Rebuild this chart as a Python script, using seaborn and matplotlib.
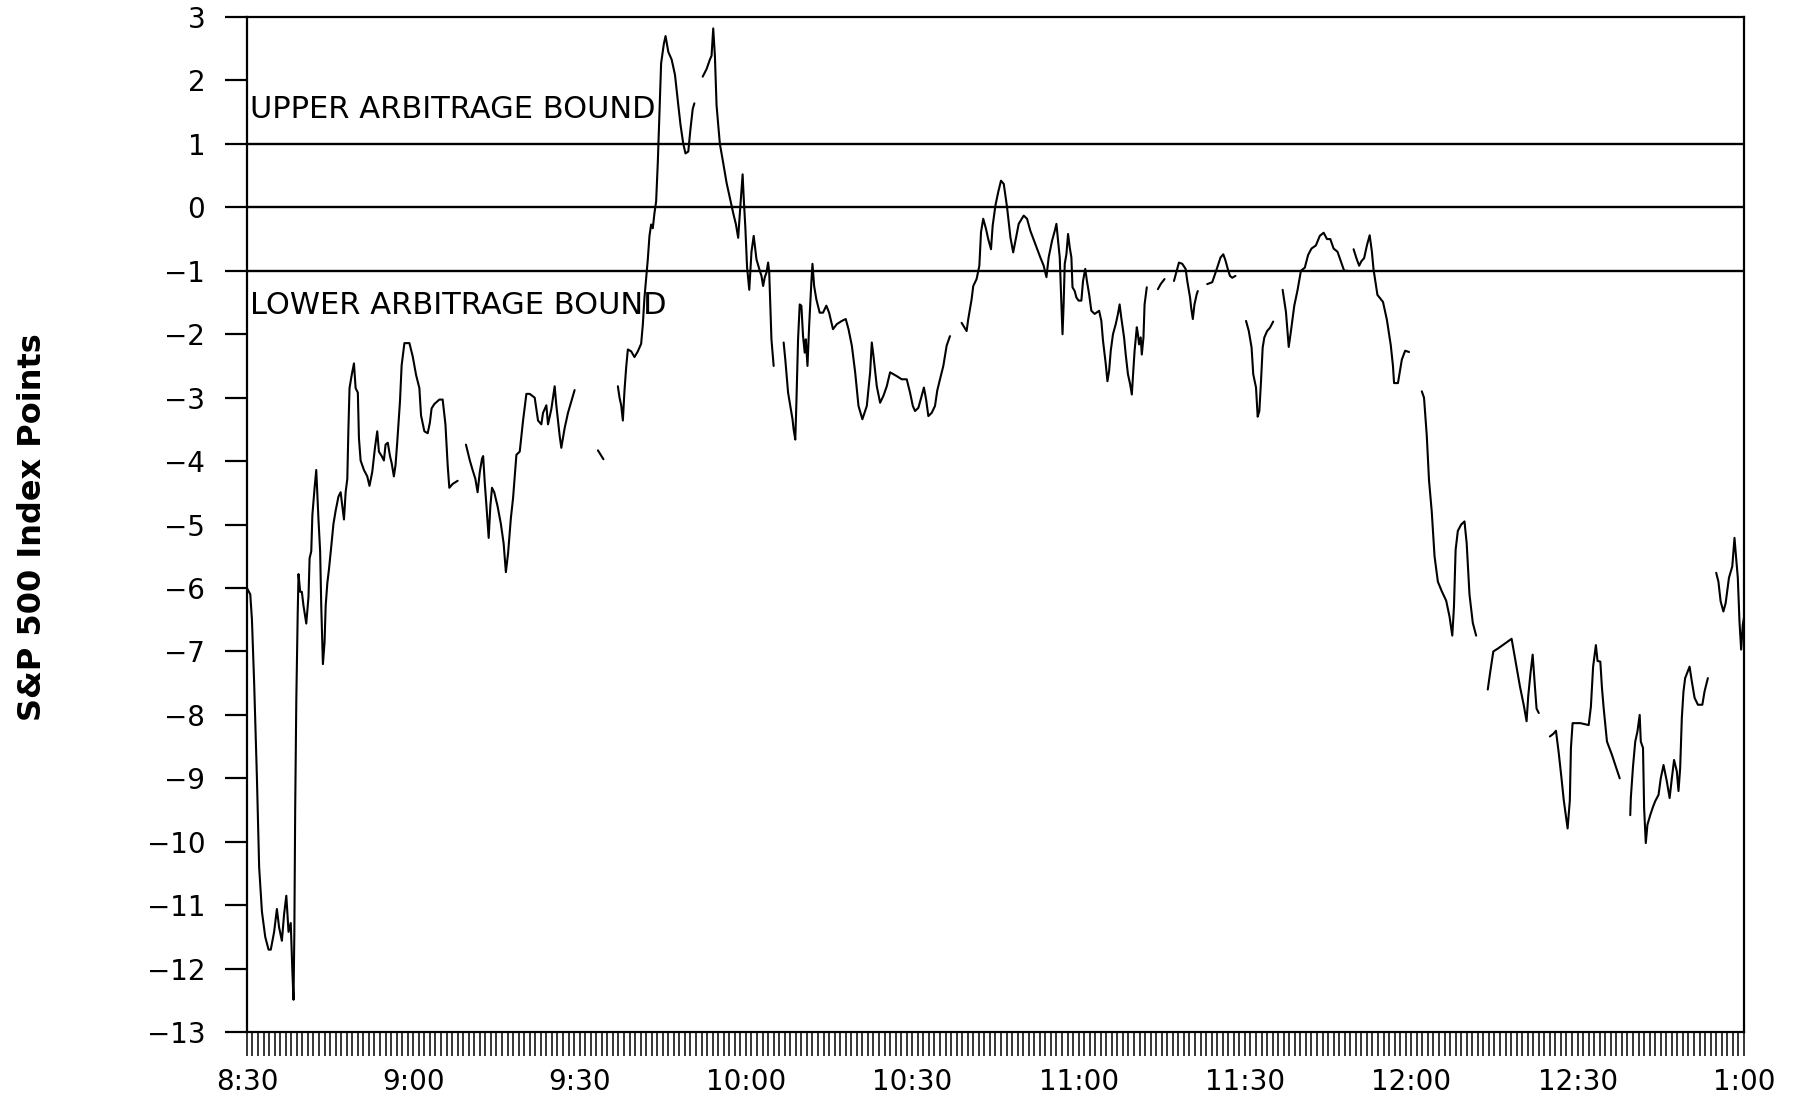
import numpy as np
import pandas as pd
import seaborn as sns
from matplotlib import pyplot as plt
from matplotlib.ticker import MultipleLocator

nan = np.nan

# minutes after 8:30; nan marks a break in the recorded series
minutes = [
    0, 0.6, 0.9, 1.3, 1.8, 2.2, 2.7, 3.3, 3.9, 4.3, 4.9, 5.4, 5.8, 6.3, 6.7, 7.1, 7.5, 7.9, 8.2, 8.4, 8.55,
    8.7, 8.9, 9.15, 9.3, 9.6, 9.9, 10.2, 10.7, 11.1, 11.3, 11.6, 11.8, 12.2, 12.5, 12.9, 13.2, 13.4, 13.7,
    14.0, 14.2, 14.5, 14.8, 15.2, 15.6, 16.0, 16.5, 16.9, 17.2, 17.5, 17.8, 18.1, 18.3, 18.5, 18.9, 19.3,
    19.6, 20.0, 20.2, 20.5, 21.1, 21.7, 22.1, 22.6, 23.1, 23.5, 23.8, 24.3, 24.7, 25.0, 25.4, 25.8, 26.1,
    26.5, 26.8, 27.1, 27.6, 27.9, 28.4, 29.3, 29.9, 30.5, 31.1, 31.4, 32.0, 32.6, 33.0, 33.3, 33.8, 34.7,
    35.3, 35.8, 36.2, 36.5, 37.1, 38.0, nan,
    39.5, 40.2, 40.7, 41.2, 41.6, 42.0, 42.4, 42.6, 42.9, 43.2, 43.6, 43.9, 44.2, 44.6, 45.2, 45.8, 46.3,
    46.7, 47.1, 47.6, 48.0, 48.6, 49.2, 49.8, 50.4, 51.0, 51.9, 52.5, 53.1, 53.4, 54.0, 54.3, 54.9, 55.5,
    55.8, 56.4, 56.7, 57.3, 57.9, 58.5, 59.1, nan,
    63.3, 64.3, nan,
    66.9, 67.2, 67.5, 67.8, 68.1, 68.4, 68.7, 69.3, 69.9, 70.5, 71.1, 71.4, 71.7, 72.0, 72.3, 72.6, 72.9,
    73.2, 73.5, 73.8, 74.1, 74.4, 74.7, 75.2, 75.5, 76.0, 76.6, 77.2, 77.8, 78.2, 78.7, 79.1, 79.6, 80.0,
    80.4, 80.7, nan,
    82.2, 82.9, 83.5, 83.8, 84.1, 84.4, 84.7, 85.0, 85.3, 85.9, 86.5, 87.1, 87.7, 88.2, 88.6, 89.0, 89.4,
    89.6, 89.9, 90.2, 90.6, 91.0, 91.4, 91.9, 92.5, 92.8, 93.1, 93.4, 93.7, 94.0, 94.2, 94.3, 94.6, 95.0, nan,
    96.8, 97.1, 97.6, 98.0, 98.4, 98.6, 98.9, 99.1, 99.4, 99.7, 100.0, 100.3, 100.6, 100.8, 101.1, 101.4,
    101.8, 102.0, 102.3, 102.7, 103.3, 103.9, 104.5, 105.0, 105.7, 106.4, 107.3, 108.0, 108.5, 109.1,
    109.7, 110.3, 111.0, 111.8, 112.4, 112.7, 113.0, 113.6, 114.2, 114.8, 115.4, 116.0, 116.6, 117.2,
    118.1, 119.0, 119.6, 120.1, 120.5, 121.1, 121.7, 122.1, 122.5, 122.9, 123.5, 124.1, 124.5, 125.0,
    125.6, 126.2, 126.8, nan,
    128.9, 129.8, 130.1, 130.7, 131.0, 131.6, 132.1, 132.4, 132.8, 133.3, 133.7, 134.2, 134.5, 135.0,
    135.5, 136.0, 136.5, 137.1, 137.7, 138.2, 138.6, 139.2, 140.1, 140.7, 141.3, 142.2, 143.1, 143.7,
    144.2, 144.6, 145.2, 145.7, 146.0, 146.3, 146.6, 146.9, 147.1, 147.3, 147.5, 147.8, 148.1, 148.4,
    148.7, 148.9, 149.3, 149.6, 150.0, 150.5, 150.8, 151.2, 151.5, 151.9, 152.3, 152.9, 153.7, 154.1,
    154.4, 154.9, 155.2, 155.5, 155.8, 156.2, 156.7, 157.1, 157.4, 157.7, 158.2, 158.5, 158.9, 159.3,
    159.6, 159.9, 160.1, 160.5, 160.7, 160.9, 161.2, 161.4, 161.7, 161.9, 162.3, nan,
    164.3, 164.8, 165.5, nan,
    167.2, 167.7, 168.1, 168.7, 169.3, 169.6, 170.1, 170.3, 170.6, 170.9, 171.3, 171.5, nan,
    173.2, 174.1, 174.5, 175.0, 175.6, 176.1, 176.5, 177.0, 177.3, 177.7, 178.3, nan,
    180.2, 180.7, 181.2, 181.5, 182.0, 182.3, 182.6, 182.9, 183.2, 183.5, 184.0, 184.5, 185.1, nan,
    186.8, 187.4, 187.9, 188.3, 188.9, 189.5, 190.1, 190.8, 191.4, 192.0, 192.8, 193.5, 194.2, 194.8,
    195.4, 196.0, 196.7, 197.3, 197.9, 198.5, nan,
    199.6, 200.1, 200.6, 201.0, 201.5, 202.0, 202.5, 202.9, 203.2, 203.9, 204.9, 205.6, 206.3, 206.7,
    206.9, 207.6, 208.3, 208.9, 209.6, nan,
    211.9, 212.3, 212.8, 213.2, 213.7, 214.2, 214.8, 215.5, 216.3, 216.9, 217.4, 217.7, 218.0, 218.4,
    219.0, 219.6, 220.0, 220.5, 221.1, 221.7, nan,
    223.8, 224.2, 224.8, 225.7, 226.5, 227.3, 228.1, 228.5, 229.0, 229.6, 230.3, 230.8, 231.1, 231.5,
    231.9, 232.3, 232.6, 233.0, nan,
    235.0, 235.6, 236.1, 236.6, 237.1, 237.5, 238.2, 238.6, 238.8, 239.1, 240.5, 242.0, 242.4, 242.8,
    243.3, 243.6, 244.1, 244.4, 244.7, 245.3, 246.2, 246.8, 247.6, nan,
    249.5, 249.6, 250.0, 250.4, 250.8, 251.2, 251.4, 251.8, 252.0, 252.3, 252.6, 253.1, 253.6, 254.0,
    254.6, 255.0, 255.5, 256.1, 256.6, 257.0, 257.4, 257.9, 258.2, 258.5, 258.8, 259.1, 259.4, 260.2,
    260.6, 261.1, 261.7, 262.5, 262.9, 263.5, nan,
    265.0, 265.4, 265.8, 266.3, 266.7, 267.3, 267.9, 268.3, 268.6, 268.9, 269.2, 269.5, 269.8, 270.0,
]

# futures minus fair value, S&P 500 index points
spread = [
    -6.0, -6.1, -6.5, -7.5, -9.0, -10.4, -11.1, -11.5, -11.7, -11.7, -11.42, -11.06, -11.35, -11.56, -11.14,
    -10.85, -11.42, -11.28, -12.06, -12.49, -11.42, -9.49, -7.78, -6.42, -5.78, -6.06, -6.06, -6.28, -6.56,
    -6.14, -5.53, -5.42, -4.85, -4.42, -4.14, -4.92, -5.42, -6.28, -7.2, -6.85, -6.28, -5.92, -5.7, -5.35,
    -4.99, -4.78, -4.56, -4.49, -4.71, -4.92, -4.49, -4.28, -3.49, -2.85, -2.64, -2.46, -2.85, -2.92, -3.64,
    -3.99, -4.14, -4.24, -4.39, -4.17, -3.78, -3.53, -3.85, -3.92, -3.99, -3.74, -3.71, -3.92, -4.03, -4.24,
    -4.06, -3.71, -3.06, -2.49, -2.14, -2.14, -2.35, -2.64, -2.85, -3.28, -3.53, -3.56, -3.39, -3.17, -3.1,
    -3.03, -3.03, -3.42, -4.06, -4.42, -4.36, -4.31, nan,
    -3.74, -3.99, -4.14, -4.28, -4.49, -4.17, -3.96, -3.92, -4.35, -4.71, -5.21, -4.71, -4.42, -4.49, -4.71,
    -4.99, -5.3, -5.75, -5.45, -4.9, -4.58, -3.9, -3.85, -3.36, -2.94, -2.94, -3.0, -3.36, -3.42, -3.24,
    -3.12, -3.42, -3.18, -2.82, -3.12, -3.6, -3.79, -3.48, -3.24, -3.06, -2.88, nan,
    -3.83, -3.97, nan,
    -2.82, -3.0, -3.12, -3.36, -2.88, -2.52, -2.24, -2.27, -2.36, -2.27, -2.15, -1.85, -1.42, -1.12, -0.82,
    -0.45, -0.27, -0.33, -0.09, 0.09, 0.7, 1.48, 2.27, 2.58, 2.7, 2.45, 2.33, 2.09, 1.61, 1.3, 1.0, 0.85,
    0.88, 1.24, 1.55, 1.64, nan,
    2.06, 2.18, 2.33, 2.39, 2.82, 2.39, 1.61, 1.3, 1.0, 0.7, 0.39, 0.15, -0.09, -0.27, -0.48, 0.03, 0.52,
    0.15, -0.33, -0.94, -1.3, -0.7, -0.45, -0.82, -1.0, -1.08, -1.24, -1.1, -1.03, -0.87, -1.03, -1.29,
    -2.08, -2.5, nan,
    -2.13, -2.4, -2.92, -3.13, -3.34, -3.5, -3.66, -3.08, -2.08, -1.53, -1.55, -2.03, -2.29, -2.08, -2.5,
    -1.87, -1.18, -0.89, -1.24, -1.45, -1.66, -1.66, -1.55, -1.66, -1.92, -1.84, -1.79, -1.76, -1.92, -2.18,
    -2.6, -3.13, -3.34, -3.13, -2.6, -2.13, -2.34, -2.82, -3.08, -2.97, -2.82, -2.6, -2.63, -2.66, -2.71,
    -2.71, -2.92, -3.13, -3.21, -3.16, -2.97, -2.84, -3.03, -3.29, -3.24, -3.13, -2.89, -2.71, -2.5, -2.18,
    -2.03, nan,
    -1.82, -1.95, -1.76, -1.45, -1.24, -1.13, -0.92, -0.39, -0.18, -0.34, -0.5, -0.66, -0.29, 0.03, 0.24,
    0.42, 0.37, 0.0, -0.47, -0.71, -0.53, -0.26, -0.13, -0.18, -0.37, -0.58, -0.79, -0.92, -1.1, -0.79,
    -0.53, -0.37, -0.26, -0.53, -0.79, -1.53, -2.0, -1.53, -0.89, -0.74, -0.42, -0.63, -0.79, -1.26, -1.32,
    -1.42, -1.47, -1.47, -1.16, -0.97, -1.16, -1.37, -1.63, -1.68, -1.63, -1.79, -2.1, -2.47, -2.74, -2.58,
    -2.26, -2.0, -1.84, -1.68, -1.53, -1.74, -2.05, -2.32, -2.63, -2.79, -2.95, -2.53, -2.26, -1.89, -2.0,
    -2.16, -2.05, -2.32, -2.05, -1.53, -1.26, nan,
    -1.29, -1.21, -1.13, nan,
    -1.16, -1.0, -0.87, -0.89, -0.97, -1.16, -1.42, -1.58, -1.76, -1.53, -1.37, -1.32, nan,
    -1.21, -1.18, -1.08, -0.95, -0.79, -0.74, -0.84, -1.0, -1.08, -1.11, -1.08, nan,
    -1.79, -1.95, -2.21, -2.63, -2.84, -3.3, -3.21, -2.74, -2.21, -2.05, -1.95, -1.9, -1.8, nan,
    -1.3, -1.65, -2.2, -1.95, -1.55, -1.3, -1.0, -0.95, -0.75, -0.65, -0.6, -0.45, -0.4, -0.5, -0.5, -0.65,
    -0.7, -0.85, -1.0, -1.0, nan,
    -0.66, -0.8, -0.92, -0.85, -0.8, -0.6, -0.44, -0.7, -0.98, -1.38, -1.49, -1.77, -2.17, -2.5, -2.77,
    -2.77, -2.4, -2.26, -2.28, nan,
    -2.9, -3.0, -3.6, -4.3, -4.8, -5.5, -5.9, -6.05, -6.2, -6.45, -6.75, -6.3, -5.4, -5.1, -5.0, -4.95,
    -5.3, -6.1, -6.55, -6.75, nan,
    -7.6, -7.35, -7.0, -6.95, -6.9, -6.85, -6.8, -7.0, -7.25, -7.55, -7.85, -8.1, -7.7, -7.35, -7.05, -7.55,
    -7.9, -7.97, nan,
    -8.34, -8.3, -8.25, -8.6, -9.0, -9.34, -9.79, -9.35, -8.52, -8.13, -8.13, -8.16, -7.87, -7.24, -6.9,
    -7.15, -7.16, -7.58, -7.89, -8.42, -8.63, -8.79, -9.0, nan,
    -9.58, -9.31, -8.81, -8.42, -8.26, -8.0, -8.42, -8.52, -9.47, -10.02, -9.73, -9.58, -9.45, -9.36, -9.26,
    -9.0, -8.79, -9.05, -9.31, -9.0, -8.71, -8.89, -9.2, -8.84, -8.05, -7.63, -7.42, -7.24, -7.47, -7.73,
    -7.84, -7.84, -7.63, -7.42, nan,
    -5.76, -5.9, -6.21, -6.37, -6.24, -5.84, -5.66, -5.21, -5.53, -5.84, -6.53, -6.97, -6.58, -6.47,
]

bounds = [1, 0, -1]
bound_names = ['UPPER ARBITRAGE BOUND', 'LOWER ARBITRAGE BOUND']
bound_text_y = [1.55, -1.55]
time_ticks = [0, 30, 60, 90, 120, 150, 180, 210, 240, 270]
time_labels = ['8:30', '9:00', '9:30', '10:00', '10:30', '11:00', '11:30', '12:00', '12:30', '1:00']

df = pd.DataFrame({'minute': minutes, 'spread': spread})
df['piece'] = df['spread'].isna().cumsum()
df = df.dropna()

sns.set_style('ticks')
plt.rcParams['font.family'] = ['DejaVu Sans']
plt.rcParams['text.color'] = 'black'
plt.rcParams['xtick.color'] = 'black'
plt.rcParams['ytick.color'] = 'black'

fig = plt.figure(figsize=(17.96, 10.98), dpi=100)
ax = fig.add_axes([0.1375, 0.06, 0.8335, 0.9245])

sns.lineplot(data=df, x='minute', y='spread', units='piece', estimator=None, sort=False,
             color='black', linewidth=1.5, ax=ax, legend=False)

for b in bounds:
    ax.axhline(b, color='black', linewidth=1.7, zorder=1)

ax.text(0.6, bound_text_y[0], bound_names[0], fontsize=22, va='center', ha='left', color='black')
ax.text(0.6, bound_text_y[1], bound_names[1], fontsize=22, va='center', ha='left', color='black')

ax.set_xlim(0, 270)
ax.set_ylim(-13, 3)
ax.set_yticks(range(-13, 4))
ax.set_xticks(time_ticks)
ax.set_xticklabels(time_labels)
ax.xaxis.set_minor_locator(MultipleLocator(1))

ax.tick_params(axis='y', length=16, width=1.6, pad=14, labelsize=20, color='black', labelcolor='black')
ax.tick_params(axis='x', which='both', length=17, width=1.1, pad=9, labelsize=20, color='black',
               labelcolor='black')
for side in ['left', 'right', 'top', 'bottom']:
    ax.spines[side].set_color('black')
    ax.spines[side].set_linewidth(1.6)

ax.set_xlabel('')
ax.set_ylabel('')
fig.text(0.018, 0.52, 'S&P 500 Index Points', rotation=90, fontsize=23, fontweight='bold',
         va='center', ha='center', color='black')

plt.savefig('out.png', dpi=100)
